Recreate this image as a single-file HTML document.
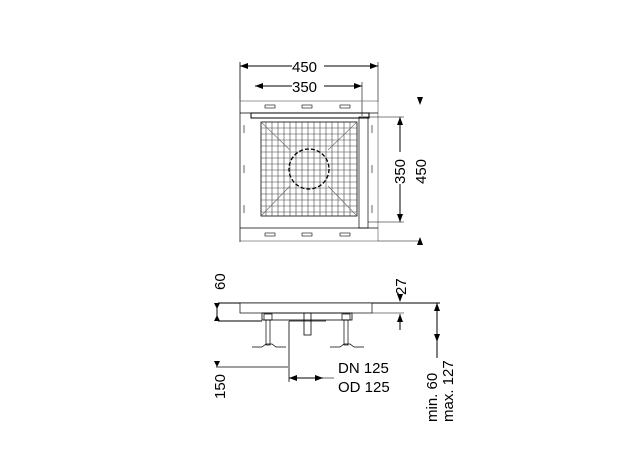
<!DOCTYPE html>
<html><head><style>body{margin:0;background:#fff}svg{display:block}text{font-family:"Liberation Sans",sans-serif;font-size:15px;fill:#000;stroke:none}</style></head><body>
<svg width="640" height="453" viewBox="0 0 640 453" xmlns="http://www.w3.org/2000/svg" stroke="#000" fill="none" stroke-width="1">
<defs><marker id="a" markerWidth="8" markerHeight="6" refX="8" refY="3" orient="auto-start-reverse" markerUnits="userSpaceOnUse"><path d="M0,0L8,3L0,6z" fill="#000" stroke="none"/></marker></defs>
<line x1="240" y1="66" x2="378" y2="66" marker-start="url(#a)" marker-end="url(#a)"/>
<line x1="240" y1="62" x2="240" y2="242" stroke-width="0.8"/>
<line x1="378" y1="62" x2="378" y2="102" stroke-width="0.6"/>
<rect x="292" y="58" width="32" height="16" fill="#fff" stroke="none"/>
<text x="292" y="72">450</text>
<line x1="255" y1="86" x2="362" y2="86" marker-start="url(#a)" marker-end="url(#a)"/>
<line x1="362" y1="82" x2="362" y2="116" stroke-width="0.6"/>
<rect x="292" y="78" width="32" height="16" fill="#fff" stroke="none"/>
<text x="292" y="92">350</text>
<rect x="240" y="101" width="138" height="140" stroke-width="0.6" stroke="#555"/>
<rect x="251" y="113" width="118" height="5" stroke-width="1"/>
<line x1="240" y1="113" x2="378" y2="113" stroke-width="0.7"/>
<line x1="240" y1="228" x2="378" y2="228" stroke-width="0.7"/>
<rect x="261" y="122" width="96" height="94" stroke-width="0.8"/>
<rect x="359" y="117" width="9" height="111" stroke-width="0.7"/>
<g stroke-width="0.6" stroke="#444">
<path d="M266 122V216M272 122V216M278 122V216M284 122V216M290 122V216M296 122V216M302 122V216M308 122V216M314 122V216M320 122V216M326 122V216M332 122V216M338 122V216M344 122V216M350 122V216"/>
<path d="M261 128H357M261 134H357M261 140H357M261 146H357M261 152H357M261 158H357M261 164H357M261 170H357M261 176H357M261 182H357M261 188H357M261 194H357M261 200H357M261 206H357M261 212H357"/>
<path d="M261 122L290 150M357 122L328 150M261 216L290 186M357 216L328 186" stroke="#666"/>
</g>
<circle cx="309" cy="169" r="20" stroke-dasharray="4 2" stroke-width="1.3"/>
<g stroke-width="0.6"><rect x="265" y="105" width="10" height="3"/><rect x="302" y="105" width="10" height="3"/><rect x="340" y="105" width="10" height="3"/>
<rect x="265" y="233" width="10" height="3"/><rect x="302" y="233" width="10" height="3"/><rect x="340" y="233" width="10" height="3"/>
<path d="M244 125v8M244 165v8M244 205v8M372 125v8M372 165v8M372 205v8"/></g>
<line x1="368" y1="117" x2="404" y2="117" stroke-width="0.6"/>
<line x1="368" y1="222" x2="404" y2="222" stroke-width="0.6"/>
<line x1="400" y1="117" x2="400" y2="222" marker-start="url(#a)" marker-end="url(#a)"/>
<rect x="392" y="152" width="16" height="32" fill="#fff" stroke="none"/>
<text transform="translate(405,184) rotate(-90)">350</text>
<line x1="378" y1="241" x2="420" y2="241" stroke-width="0.6"/>
<path d="M417 97l3 8l3-8z M417 245l3-8l3 8z" fill="#000" stroke="none"/>
<text transform="translate(426,184) rotate(-90)">450</text>
<line x1="218" y1="303" x2="440" y2="303"/>
<rect x="240" y="303" width="132" height="10" stroke-width="0.7" fill="#fff"/>
<line x1="218" y1="321" x2="262" y2="321"/>
<line x1="372" y1="313" x2="404" y2="313" stroke-width="0.6"/>
<rect x="262" y="313" width="90" height="7" stroke-width="0.8"/>
<rect x="264" y="314" width="8" height="6" stroke-width="0.7"/><rect x="342" y="314" width="8" height="6" stroke-width="0.7"/>
<rect x="266" y="320" width="4" height="25" stroke-width="0.7"/><rect x="344" y="320" width="4" height="25" stroke-width="0.7"/>
<path d="M252 347h10l4-3h6l4 3h10M330 347h10l4-3h6l4 3h10" stroke-width="0.7"/>
<rect x="304" y="313" width="7" height="22" stroke-width="0.8"/>
<line x1="289" y1="321" x2="289" y2="382" stroke-width="0.8"/>
<line x1="289" y1="321" x2="326" y2="321" stroke-width="0.8"/>
<line x1="216" y1="367" x2="288" y2="367" stroke-width="0.8"/>
<line x1="289" y1="378" x2="323" y2="378" marker-start="url(#a)" marker-end="url(#a)"/>
<line x1="323" y1="378" x2="334" y2="378" stroke-width="0.6"/>
<path d="M214 303l3 6l3-6zM214 321l3-6l3 6zM214 361l3 6l3-6z" fill="#000" stroke="none"/>
<line x1="217" y1="303" x2="217" y2="321"/>
<text transform="translate(225,290) rotate(-90)">60</text>
<text transform="translate(225,399) rotate(-90)">150</text>
<text x="338" y="373">DN 125</text>
<text x="338" y="392">OD 125</text>
<path d="M397 294l3 8l3-8zM397 322l3-8l3 8z" fill="#000" stroke="none"/>
<line x1="400" y1="314" x2="400" y2="330"/>
<text transform="translate(406,295) rotate(-90)">27</text>
<line x1="437" y1="303" x2="437" y2="342" marker-start="url(#a)" marker-end="url(#a)"/>
<line x1="437" y1="342" x2="437" y2="358"/>
<text transform="translate(437,422) rotate(-90)">min. 60</text>
<text transform="translate(453,422) rotate(-90)">max. 127</text>
</svg>
</body></html>
